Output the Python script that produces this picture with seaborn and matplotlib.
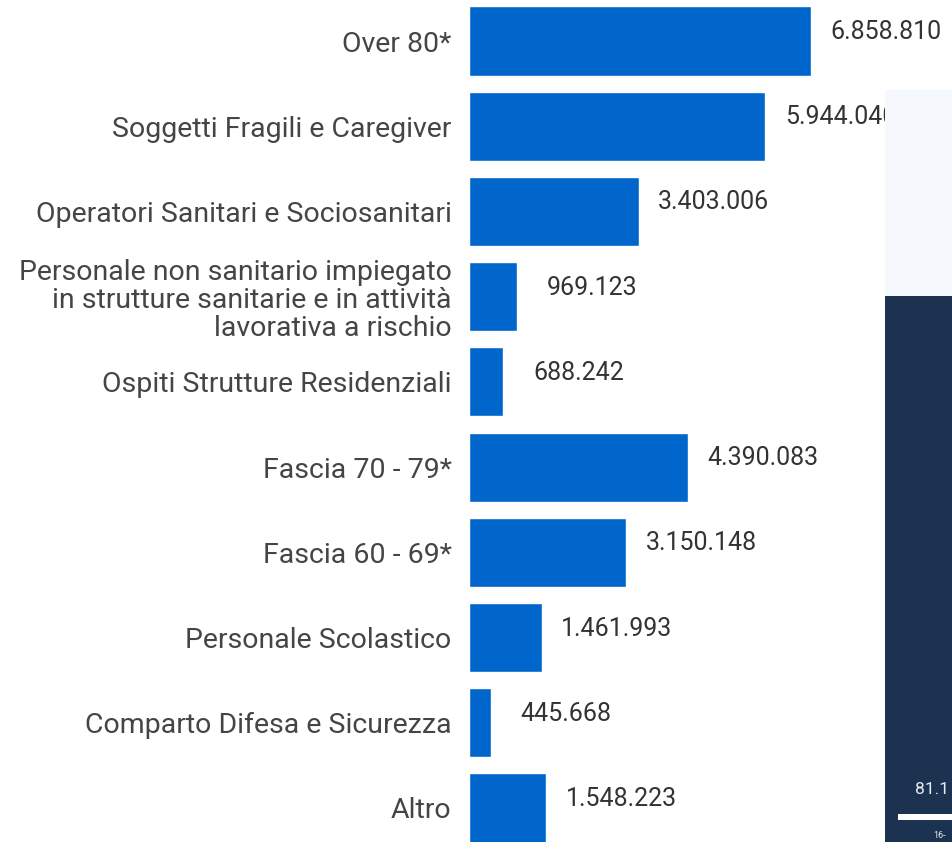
import matplotlib
matplotlib.use("Agg")
import matplotlib.pyplot as plt
import seaborn as sns
import pandas as pd
from matplotlib.patches import Rectangle

categories = [
    "Over 80*",
    "Soggetti Fragili e Caregiver",
    "Operatori Sanitari e Sociosanitari",
    "Personale non sanitario impiegato\nin strutture sanitarie e in attività\nlavorativa a rischio",
    "Ospiti Strutture Residenziali",
    "Fascia 70 - 79*",
    "Fascia 60 - 69*",
    "Personale Scolastico",
    "Comparto Difesa e Sicurezza",
    "Altro",
]
values = [6858810, 5944040, 3403006, 969123, 688242, 4390083, 3150148, 1461993, 445668, 1548223]

sns.set_theme(style="white")
plt.rcParams['font.family'] = ['Roboto', 'DejaVu Sans']

W, H = 952, 842
fig = plt.figure(figsize=(W / 100, H / 100), dpi=100)
fig.patch.set_facecolor("white")

px_per_m = 49.87
left = 469
top_y = 41 - 42.6
bot_y = 808 + 42.6
ax = fig.add_axes([left / W, 1 - bot_y / H, (W - left) / W, (bot_y - top_y) / H])

df = pd.DataFrame({"cat": categories, "val": values})
sns.barplot(data=df, x="val", y="cat", orient="h", color="#0066CC",
            saturation=1, width=0.81, ax=ax)

ax.set_xlim(0, (W - left) / px_per_m * 1e6)
ax.set_ylim(len(categories) - 0.5, -0.5)
ax.set_xlabel("")
ax.set_ylabel("")
ax.set_xticks([])
for s in ax.spines.values():
    s.set_visible(False)
ax.tick_params(axis="y", length=0, pad=12.5, labelsize=20.5, labelcolor="#454545")
for lbl in ax.get_yticklabels():
    lbl.set_linespacing(1.06)
ax.set_facecolor("none")

for i, v in enumerate(values):
    ax.annotate(f"{v:,}".replace(",", "."), xy=(v, i), xytext=(75, 9),
                textcoords="offset pixels", ha="center", va="center",
                fontsize=18, color="#333333", clip_on=False)

# overlapping panels from the screenshot's right edge
fig.add_artist(Rectangle((885 / W, 1 - 296 / H), (W - 885) / W, (296 - 90) / H,
                         transform=fig.transFigure, facecolor="#F5F8FC",
                         edgecolor="none", zorder=10))
fig.add_artist(Rectangle((885 / W, 0), (W - 885) / W, 1 - 296 / H,
                         transform=fig.transFigure, facecolor="#1B3350",
                         edgecolor="none", zorder=10))
fig.add_artist(Rectangle((898 / W, 1 - 820 / H), (W - 898) / W, 6 / H,
                         transform=fig.transFigure, facecolor="white",
                         edgecolor="none", zorder=11))
fig.text(915 / W, 1 - 790 / H, "81.1", color="#e8ecf2", fontsize=12.5,
         va="center", ha="left", zorder=12)
fig.text(933 / W, 1 - 836 / H, "16-", color="#e8ecf2", fontsize=6.5,
         va="center", ha="left", zorder=12)

fig.savefig("out.png", dpi=100)
